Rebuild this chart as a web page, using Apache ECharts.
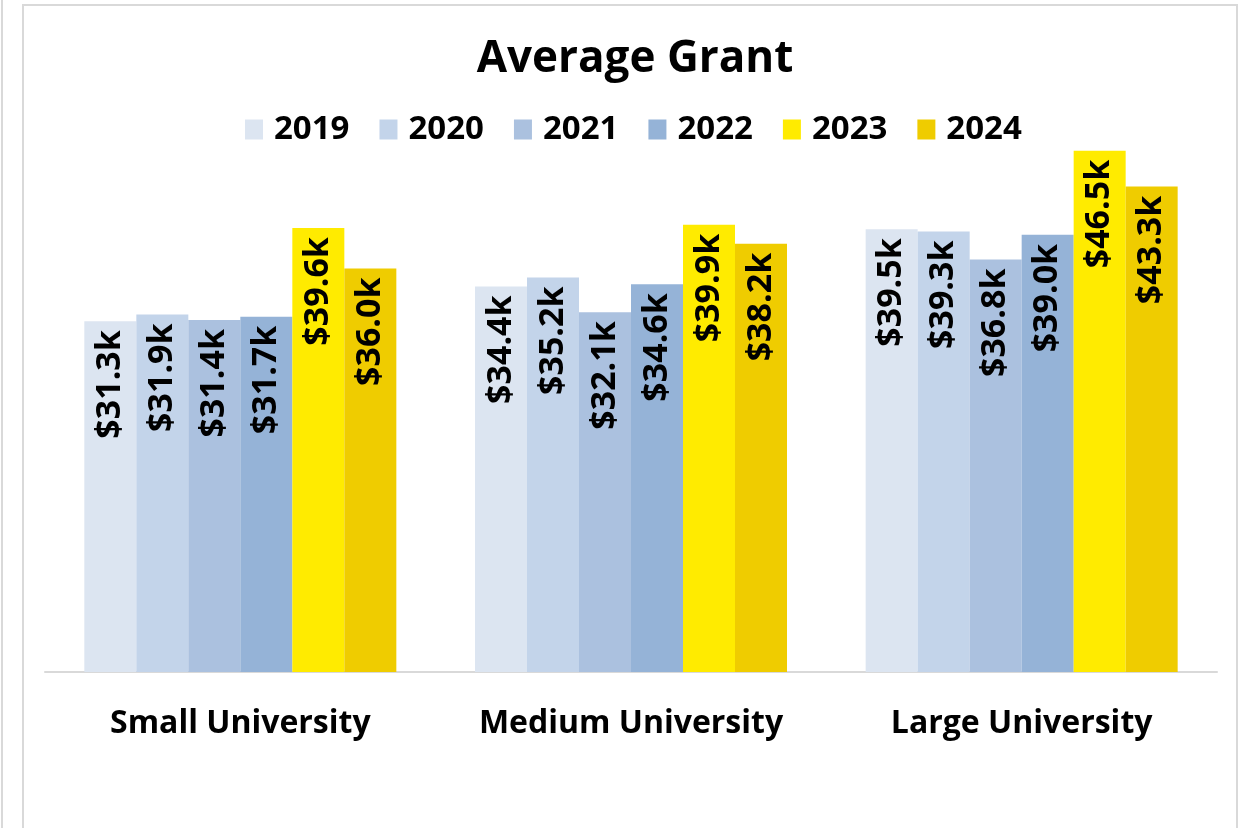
<!DOCTYPE html>
<html>
<head>
<meta charset="utf-8">
<script src="https://cdn.jsdelivr.net/npm/echarts@6/dist/echarts.min.js"></script>
<style>
  html, body { margin: 0; padding: 0; background: #fff; }
  #chart { width: 1238px; height: 828px; }
</style>
</head>
<body>
<div id="chart"></div>
<script>
// categories and yearly series (values in $k)
var categories = ['Small University', 'Medium University', 'Large University']
var years = ['2019', '2020', '2021', '2022', '2023', '2024']
var grant2019 = [31.3, 34.4, 39.5]
var grant2020 = [31.9, 35.2, 39.3]
var grant2021 = [31.4, 32.1, 36.8]
var grant2022 = [31.7, 34.6, 39.0]
var grant2023 = [39.6, 39.9, 46.5]
var grant2024 = [36.0, 38.2, 43.3]

var colors = ['#dce5f1', '#c3d4ea', '#abc1df', '#95b3d7', '#ffeb00', '#efcc00']
var font = '"Open Sans", Lato, sans-serif'

var chart = echarts.init(document.getElementById('chart'))

var allData = [grant2019, grant2020, grant2021, grant2022, grant2023, grant2024]
var series = years.map(function (y, i) {
  return {
    name: y,
    type: 'bar',
    data: allData[i],
    barWidth: 52,
    barGap: '0%',
    itemStyle: { color: colors[i] },
    label: {
      show: true,
      position: 'insideTop',
      rotate: 90,
      align: 'right',
      verticalAlign: 'middle',
      distance: 9,
      color: '#000',
      fontFamily: font,
      fontWeight: 'bold',
      fontSize: 34,
      formatter: function (p) { return '$' + p.value.toFixed(1) + 'k' }
    }
  }
})

chart.setOption({
  animation: false,
  title: {
    text: 'Average Grant',
    left: 630,
    textAlign: 'center',
    top: 32,
    textStyle: { fontFamily: font, fontWeight: 'bold', fontSize: 44, color: '#000' }
  },
  legend: {
    data: years,
    top: 108,
    left: 240,
    itemWidth: 18,
    itemHeight: 20,
    itemGap: 30,
    icon: 'rect',
    textStyle: { fontFamily: font, fontWeight: 'bold', fontSize: 33, color: '#000', padding: [0, 0, 0, 6] }
  },
  grid: { left: 45, right: 21, top: 111.5, bottom: 156, containLabel: false },
  xAxis: {
    type: 'category',
    data: categories,
    axisLine: { lineStyle: { color: '#d9d9d9', width: 2 } },
    axisTick: { show: false },
    axisLabel: {
      interval: 0,
      margin: 36,
      color: '#000',
      fontFamily: font,
      fontWeight: 'bold',
      fontSize: 32
    }
  },
  yAxis: {
    type: 'value',
    min: 0,
    max: 50,
    show: false,
    splitLine: { show: false }
  },
  graphic: [
    { type: 'line', shape: { x1: 2, y1: 0, x2: 2, y2: 828 }, style: { stroke: '#d9d9d9', lineWidth: 2 } },
    { type: 'polyline', shape: { points: [[23, 830], [23, 5], [1237, 5], [1237, 830]] }, style: { stroke: '#d9d9d9', lineWidth: 2, fill: null } }
  ],
  series: series
})
</script>
</body>
</html>
